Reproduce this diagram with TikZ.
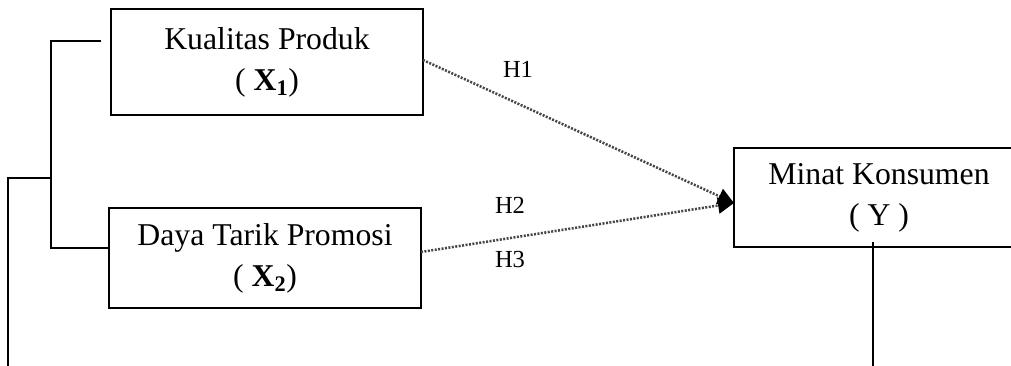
\documentclass[tikz,border=0pt]{standalone}
\usepackage{fontspec}
\setmainfont{Liberation Serif}
\usetikzlibrary{arrows.meta,calc}
\newcommand{\varX}[1]{\textbf{X}\textsubscript{\textbf{#1}}}
\begin{document}
\begin{tikzpicture}[x=0.75pt,y=-0.75pt,
  varbox/.style={draw=black,line width=1.5pt,align=center,inner sep=0pt,
    font=\fontsize{23.8}{30.75}\selectfont},
  link/.style={draw=black,line width=1.5pt},
  hyp/.style={draw=gray!55!black,line width=1.9pt,dash pattern=on 1.5pt off 1.1pt,
    -{Triangle[length=12pt,width=12pt,color=black,fill=black]}},
  hlabel/.style={font=\fontsize{18.4}{22}\selectfont,inner sep=0pt}]
  \useasboundingbox (0,0) rectangle (1011,365);
  \begin{scope}
  \clip (0,0) rectangle (1011,365);
  % independent variables
  \node[varbox,minimum width=234pt,minimum height=79.5pt] (kp) at (267,62)
    {Kualitas Produk\\( \varX{1})};
  \node[varbox,minimum width=234pt,minimum height=75pt] (dt) at (265,258)
    {Daya Tarik Promosi\\( \varX{2})};
  % dependent variable (runs past the right edge)
  \node[varbox,minimum width=217.5pt,minimum height=74.25pt] (mk) at (879,197.5)
    {Minat Konsumen\\( Y )};

  % bracket joining both independent variables
  \coordinate (kpend) at (101,41);
  \coordinate (brtop) at (51,41);
  \coordinate (brbot) at (51,248);
  \coordinate (brmid) at (51,178);
  \coordinate (outer) at (8,178);
  \coordinate (outerend) at (8,366);
  \draw[link] (kpend) -- (brtop) -- (brbot) -- (brbot -| dt.west);
  \draw[link] (brmid) -- (outer) -- (outerend);
  % line leaving the dependent variable
  \coordinate (ytop) at (873,242);
  \coordinate (yend) at (873,366);
  \draw[link] (ytop) -- (yend);

  % hypotheses
  \coordinate (tip) at (734,203);
  \coordinate (s1) at (423,60);
  \coordinate (s2) at (421,252);
  \draw[hyp] (s1) -- (tip);
  \draw[hyp] (s2) -- (tip);
  \node[hlabel] (h1) at (518,69) {H1};
  \node[hlabel] (h2) at (510,205) {H2};
  \node[hlabel] (h3) at (510,259) {H3};
  \end{scope}
\end{tikzpicture}
\end{document}
